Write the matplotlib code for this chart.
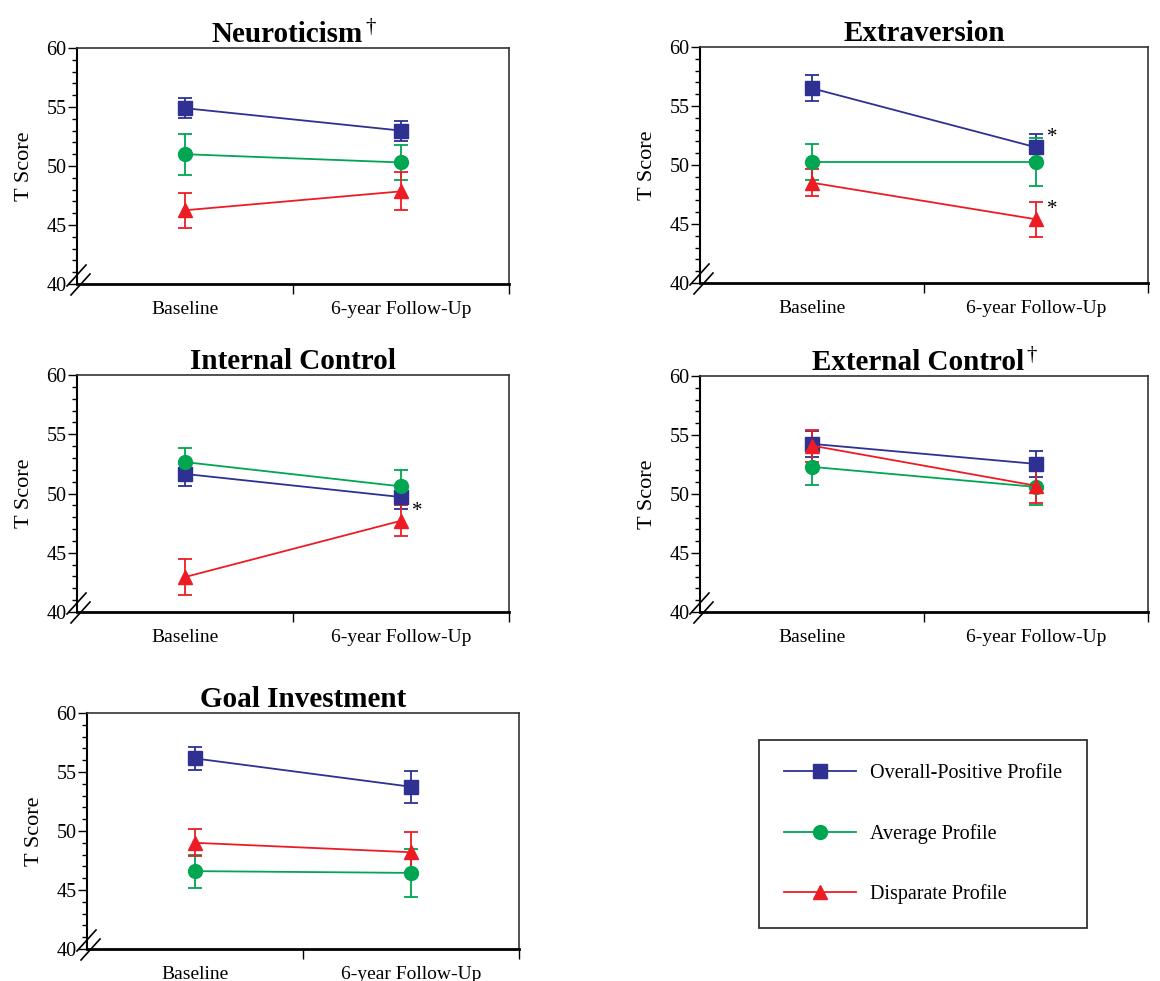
import matplotlib
matplotlib.use("Agg")
import matplotlib.pyplot as plt
import matplotlib.transforms as mtransforms
from matplotlib.lines import Line2D
from matplotlib.ticker import MultipleLocator, FixedLocator

plt.rcParams['font.family'] = ['Liberation Serif', 'DejaVu Serif']

# data: [baseline, 6-year follow-up] per trait
traits = ["Neuroticism", "Extraversion", "Internal Control", "External Control", "Goal Investment"]
dagger = [True, False, False, True, False]
times = ["Baseline", "6-year Follow-Up"]

overall_mean = [[54.9, 53.0], [56.5, 51.5], [51.65, 49.7], [54.25, 52.55], [56.15, 53.75]]
overall_err = [[0.85, 0.85], [1.1, 1.1], [1.0, 1.0], [1.1, 1.1], [1.0, 1.35]]
average_mean = [[51.0, 50.3], [50.25, 50.25], [52.65, 50.6], [52.3, 50.6], [46.6, 46.45]]
average_err = [[1.75, 1.5], [1.5, 2.0], [1.15, 1.35], [1.55, 1.5], [1.4, 2.05]]
disparate_mean = [[46.25, 47.85], [48.5, 45.4], [42.95, 47.7], [54.1, 50.7], [49.0, 48.2]]
disparate_err = [[1.5, 1.6], [1.15, 1.5], [1.5, 1.3], [1.35, 1.5], [1.15, 1.7]]

series_names = ["Overall-Positive Profile", "Average Profile", "Disparate Profile"]
series_means = [overall_mean, average_mean, disparate_mean]
series_errs = [overall_err, average_err, disparate_err]
colors = ['#2e3192', '#00a651', '#ed1c24']
markers = ['s', 'o', '^']

# significant change markers: (trait index, series index)
stars = [(1, 0), (1, 2), (2, 2)]

# axes boxes in pixels: left, top, width, height
W, H = 1160, 981
boxes = [(77, 48, 432, 236), (700, 47, 448, 236),
         (77, 375, 432, 237), (700, 376, 448, 236),
         (87, 713, 432, 236)]

fig = plt.figure(figsize=(W / 100, H / 100), dpi=100)

for t, name in enumerate(traits):
    l, tp, w, h = boxes[t]
    ax = fig.add_axes([l / W, 1 - (tp + h) / H, w / W, h / H])
    x = [0, 1]
    for s in range(3):
        ax.errorbar(x, series_means[s][t], yerr=series_errs[s][t], color=colors[s],
                    marker=markers[s], markersize=10, lw=1.3, elinewidth=1.3,
                    capsize=5, capthick=1.3, clip_on=False)
    for (ti, si) in stars:
        if ti == t:
            ax.annotate("*", (1, series_means[si][t][1]), xytext=(8, 0),
                        textcoords='offset points', fontsize=15, va='bottom', ha='left')

    ax.set_xlim(-0.5, 1.5)
    ax.set_ylim(40, 60)
    ax.set_xticks(x)
    ax.set_xticklabels(times, fontsize=14)
    ax.xaxis.set_minor_locator(FixedLocator([0.5, 1.5]))
    ax.tick_params(axis='x', which='major', length=0, pad=12)
    ax.tick_params(axis='x', which='minor', length=7, width=1, direction='out')
    ax.yaxis.set_major_locator(MultipleLocator(5))
    ax.yaxis.set_minor_locator(MultipleLocator(1))
    ax.tick_params(axis='y', which='major', length=6.5, width=1, labelsize=14.5, pad=1)
    ax.tick_params(axis='y', which='minor', length=3.5, width=1)
    ax.set_ylabel("T Score", fontsize=16, labelpad=9)

    ax.spines['bottom'].set_linewidth(2)
    ax.spines['left'].set_linewidth(1.5)
    for side in ['top', 'right']:
        ax.spines[side].set_linewidth(1.2)
        ax.spines[side].set_color('#333333')

    tx = 0.5 - (6 / w if dagger[t] else 0)
    ttl = ax.set_title(name, fontsize=21, fontweight='bold', pad=4, x=tx)
    if dagger[t]:
        ax.annotate("\u2020", xy=(1, 1), xycoords=ttl, xytext=(2, 2),
                    textcoords='offset points', fontsize=15, ha='left', va='top')

    # axis break marks at the lower-left corner
    trans = fig.dpi_scale_trans + mtransforms.ScaledTranslation(0, 0, ax.transAxes)
    for dx, dy in [(0.0, 0.0), (0.04, -0.09)]:
        ax.add_line(Line2D([-0.10 + dx, 0.09 + dx], [-0.02 + dy, 0.19 + dy],
                           transform=trans, color='black', lw=1.2, clip_on=False))

handles = [Line2D([0], [0], color=colors[s], marker=markers[s], markersize=10, lw=1.3)
           for s in range(3)]
leg = fig.legend(handles, series_names, loc='center', bbox_to_anchor=(923 / W, 1 - 834 / H),
                 fontsize=14.5, frameon=True, fancybox=False, handlelength=3.6,
                 handletextpad=0.7, labelspacing=2.0, borderpad=1.2)
leg.get_frame().set_edgecolor('black')
leg.get_frame().set_linewidth(1.3)

fig.savefig("out.png", dpi=100)
